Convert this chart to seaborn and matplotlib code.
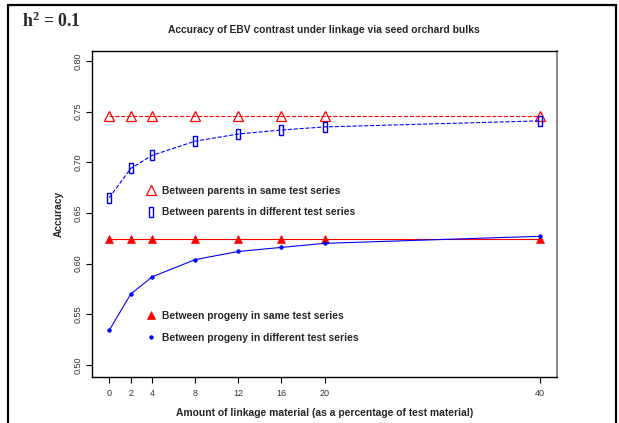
import numpy as np
import pandas as pd
import matplotlib.pyplot as plt
from matplotlib.lines import Line2D
from matplotlib.patches import Rectangle
import seaborn as sns

# Data
linkage_pct = [0, 2, 4, 8, 12, 16, 20, 40]
parents_same = [0.746, 0.746, 0.746, 0.746, 0.746, 0.746, 0.746, 0.746]
parents_diff = [0.665, 0.694, 0.707, 0.721, 0.728, 0.732, 0.735, 0.741]
progeny_same = [0.624, 0.624, 0.624, 0.624, 0.624, 0.624, 0.624, 0.624]
progeny_diff = [0.534, 0.570, 0.587, 0.604, 0.612, 0.616, 0.620, 0.627]

y_ticks = [0.50, 0.55, 0.60, 0.65, 0.70, 0.75, 0.80]

RED = '#FF0000'
BLUE = '#0000FF'

# tall narrow open box, like the R pch drawn in the original
BOX = [(-0.45, -1), (0.45, -1), (0.45, 1), (-0.45, 1), (-0.45, -1)]

sns.set_style('ticks')
plt.rcParams['font.family'] = ['Liberation Sans', 'DejaVu Sans']
plt.rcParams['mathtext.fontset'] = 'custom'
plt.rcParams['mathtext.rm'] = 'Liberation Serif:bold'
plt.rcParams['mathtext.bf'] = 'Liberation Serif:bold'
plt.rcParams['mathtext.default'] = 'rm'

df = pd.DataFrame({
    'pct': linkage_pct,
    'parents_same': parents_same,
    'parents_diff': parents_diff,
    'progeny_same': progeny_same,
    'progeny_diff': progeny_diff,
})

fig = plt.figure(figsize=(6.19, 4.23), dpi=100)
ax = fig.add_axes([92 / 619, 1 - 377 / 423, (557 - 92) / 619, (377 - 51) / 423])

# marker styles (shared by the curves and the legends)
styles = {
    'parents_same': dict(marker='^', markersize=6.5, markerfacecolor='none',
                         markeredgecolor=RED, markeredgewidth=0.9),
    'parents_diff': dict(marker=BOX, markersize=6.5, markerfacecolor='none',
                         markeredgecolor=BLUE, markeredgewidth=1.0),
    'progeny_same': dict(marker='^', markersize=6, markerfacecolor=RED,
                         markeredgecolor=RED, markeredgewidth=0.5),
    'progeny_diff': dict(marker='o', markersize=2.6, markerfacecolor=BLUE,
                         markeredgecolor=BLUE, markeredgewidth=0.5),
}
line_styles = {
    'parents_same': (RED, '--'),
    'parents_diff': (BLUE, '--'),
    'progeny_same': (RED, '-'),
    'progeny_diff': (BLUE, '-'),
}

for col in ['progeny_same', 'progeny_diff', 'parents_same', 'parents_diff']:
    c, ls = line_styles[col]
    sns.lineplot(data=df, x='pct', y=col, ax=ax, color=c, linestyle=ls,
                 linewidth=0.8, legend=False, errorbar=None, **styles[col])

ax.set_xlim(-1.6, 41.6)
ax.set_ylim(0.488, 0.81)
ax.set_xticks(linkage_pct)
ax.set_xticklabels([str(v) for v in linkage_pct], fontsize=6.5, color='#333333')
ax.set_yticks(y_ticks)
ax.set_yticklabels([f'{v:.2f}' for v in y_ticks], fontsize=6.5, color='#333333',
                   rotation=90, va='center')
ax.tick_params(axis='both', length=4, width=0.8, color='black')
ax.tick_params(axis='x', pad=5)
ax.tick_params(axis='y', pad=3)

for side in ['left', 'bottom', 'top']:
    ax.spines[side].set_color('black')
    ax.spines[side].set_linewidth(1.0)
ax.spines['right'].set_color('#888888')
ax.spines['right'].set_linewidth(1.4)

ax.set_xlabel('Amount of linkage material (as a percentage of test material)',
              fontsize=7.4, fontweight='bold', labelpad=7)
ax.set_ylabel('Accuracy', fontsize=7.4, fontweight='bold', labelpad=7)

fig.text(324 / 619, 1 - 30 / 423, 'Accuracy of EBV contrast under linkage via seed orchard bulks',
         ha='center', va='center', fontsize=7.4, fontweight='bold')
fig.text(22 / 619, 1 - 21 / 423, 'h$^{2}$ = 0.1', ha='left', va='center',
         fontsize=12.8, fontweight='bold', family='Liberation Serif')

# legends: markers only, no frame
def handle(col):
    return Line2D([], [], linestyle='none', **styles[col])

leg_kw = dict(frameon=False, loc='upper left', handlelength=1.0, handletextpad=0.5,
              labelspacing=1.15, borderaxespad=0, prop={'size': 7.4, 'weight': 'bold'})
leg1 = ax.legend([handle('parents_same'), handle('parents_diff')],
                 ['Between parents in same test series',
                  'Between parents in different test series'],
                 bbox_to_anchor=(0.108, 0.6), **leg_kw)
ax.add_artist(leg1)
ax.legend([handle('progeny_same'), handle('progeny_diff')],
          ['Between progeny in same test series',
           'Between progeny in different test series'],
          bbox_to_anchor=(0.108, 0.215), **leg_kw)

# outer frame around the whole panel
fig.patches.append(Rectangle((8 / 619, -0.05), (616 - 8) / 619, 1 - 5 / 423 + 0.05,
                             transform=fig.transFigure, fill=False,
                             edgecolor='black', linewidth=1.6))

fig.savefig('out.png', dpi=100)
